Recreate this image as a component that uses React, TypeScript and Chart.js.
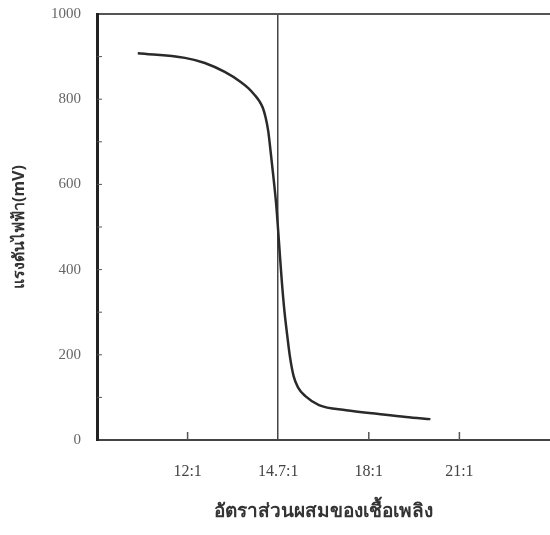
import React, { useEffect, useRef } from "react";
import { Chart, registerables } from "chart.js";

Chart.register(...registerables);

// Position on the ratio axis (1 = 12:1, 2 = 14.7:1, 3 = 18:1, 4 = 21:1)
const ratioPos = [0.45, 0.97, 1.19, 1.41, 1.59, 1.67, 1.74, 1.79, 1.83, 1.86, 1.89, 1.92, 1.95, 1.98, 2.0, 2.02, 2.04, 2.07, 2.1, 2.13, 2.17, 2.22, 2.3, 2.45, 2.75, 3.11, 3.41, 3.68];
// Sensor voltage (mV)
const voltage = [908, 897, 885, 864, 840, 826, 810, 796, 780, 758, 725, 670, 612, 548, 490, 430, 372, 300, 245, 195, 150, 123, 103, 82, 70, 61, 54, 49];

const tickPos = [1, 2, 3, 4];
const tickLabels = ["12:1", "14.7:1", "18:1", "21:1"];
const stoichPos = 2;

const yTitle = "แรงดันไฟฟ้า(mV)";
const xTitle = "อัตราส่วนผสมของเชื้อเพลิง";

const innerTicks = {
  id: "innerTicks",
  afterDraw(chart: any) {
    const { ctx, scales } = chart;
    const x = scales.x;
    const y = scales.y;
    ctx.save();
    ctx.strokeStyle = "#555";
    ctx.lineWidth = 1;
    for (let v = 100; v < 1000; v += 100) {
      const py = y.getPixelForValue(v);
      ctx.beginPath();
      ctx.moveTo(x.left, py);
      ctx.lineTo(x.left + 5, py);
      ctx.stroke();
    }
    ctx.lineWidth = 1.5;
    tickPos.forEach((p) => {
      if (p === stoichPos) return;
      const px = x.getPixelForValue(p);
      ctx.beginPath();
      ctx.moveTo(px, y.bottom);
      ctx.lineTo(px, y.bottom - 8);
      ctx.stroke();
    });
    ctx.restore();
  },
};

export default function App() {
  const ref = useRef<HTMLCanvasElement>(null);
  useEffect(() => {
    if (!ref.current) return;
    const chart = new Chart(ref.current, {
      type: "line",
      data: {
        datasets: [
          {
            data: ratioPos.map((p, i) => ({ x: p, y: voltage[i] })),
            borderColor: "#2a2a2a",
            borderWidth: 2.5,
            pointRadius: 0,
            cubicInterpolationMode: "monotone",
            fill: false,
          },
        ],
      },
      options: {
        animation: false,
        responsive: false,
        events: [],
        layout: { padding: { top: 14, left: 0, right: 0, bottom: 0 } },
        plugins: { legend: { display: false }, tooltip: { enabled: false } },
        scales: {
          x: {
            type: "linear",
            min: 0,
            max: 5,
            afterFit: (s: any) => {
              s.height = 95;
              s.paddingLeft = 0;
              s.paddingRight = 0;
            },
            afterBuildTicks: (s: any) => {
              s.ticks = tickPos.map((v) => ({ value: v }));
            },
            ticks: {
              autoSkip: false,
              maxRotation: 0,
              padding: 22,
              color: "#444",
              font: { family: "'Liberation Serif', 'DejaVu Serif', serif", size: 16 },
              callback: (v: any) => {
                const i = tickPos.indexOf(Number(v));
                return i >= 0 ? tickLabels[i] : "";
              },
            },
            grid: {
              drawTicks: false,
              color: (c: any) => (c.tick && c.tick.value === stoichPos ? "#444" : "rgba(0,0,0,0)"),
              lineWidth: 1.5,
            },
            border: { display: true, color: "#444", width: 2 },
            title: {
              display: true,
              text: xTitle,
              color: "#333",
              font: { family: "'Noto Sans', 'DejaVu Sans', serif", size: 19, weight: "bold" },
              padding: { top: 0, bottom: 12 },
            },
          },
          y: {
            min: 0,
            max: 1000,
            afterFit: (s: any) => {
              s.width = 97;
              s.paddingTop = 0;
              s.paddingBottom = 0;
            },
            ticks: {
              stepSize: 200,
              padding: 16,
              color: "#666",
              font: { family: "'Liberation Serif', 'DejaVu Serif', serif", size: 15 },
              callback: (v: any) => String(v),
            },
            grid: {
              drawTicks: false,
              color: (c: any) => (c.tick && c.tick.value === 1000 ? "#555" : "rgba(0,0,0,0)"),
              lineWidth: 2,
            },
            border: { display: true, color: "#222", width: 3 },
            title: {
              display: true,
              text: yTitle,
              color: "#333",
              font: { family: "'Noto Sans', 'DejaVu Sans', serif", size: 16, weight: "bold" },
              padding: { top: 10, bottom: 6 },
            },
          },
        },
      },
      plugins: [innerTicks],
    } as any);
    return () => chart.destroy();
  }, []);
  return (
    <div style={{ position: "absolute", left: 0, top: 0, width: 550, height: 535, background: "#fff" }}>
      <canvas ref={ref} width={550} height={535} />
    </div>
  );
}
